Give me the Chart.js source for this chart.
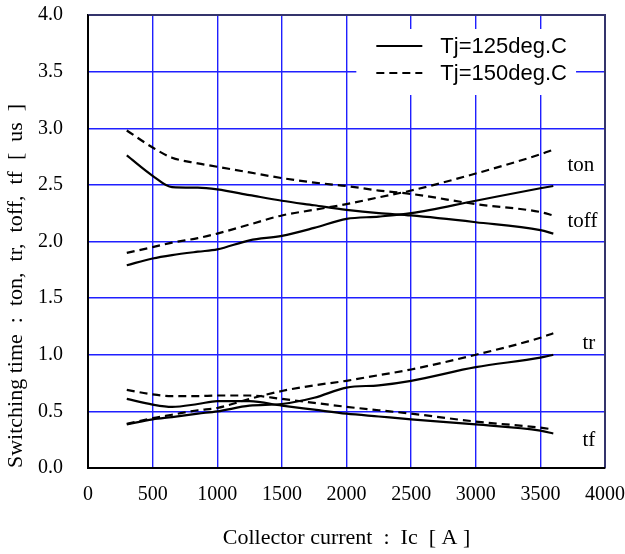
<!DOCTYPE html>
<html><head><meta charset="utf-8">
<script src="https://cdn.jsdelivr.net/npm/chart.js@4.4.0/dist/chart.umd.min.js"></script>
<style>html,body{margin:0;padding:0;background:#fff}</style>
</head><body>
<canvas id="c" width="625" height="554" style="width:625px;height:554px;display:block"></canvas>
<script>
// Collector current [A]
const current = [300, 500, 650, 850, 1000, 1250, 1500, 1750, 2000, 2250, 2500, 3000, 3500, 3600];
// Switching times [us]
const ton125  = [1.79, 1.85, 1.88, 1.91, 1.93, 2.01, 2.05, 2.12, 2.20, 2.22, 2.25, 2.36, 2.47, 2.49];
const ton150  = [1.90, 1.95, 1.99, 2.03, 2.07, 2.15, 2.23, 2.28, 2.33, 2.39, 2.45, 2.60, 2.77, 2.81];
const toff125 = [2.76, 2.58, 2.48, 2.475, 2.46, 2.41, 2.36, 2.32, 2.28, 2.25, 2.23, 2.17, 2.10, 2.07];
const toff150 = [2.98, 2.83, 2.74, 2.69, 2.66, 2.61, 2.56, 2.52, 2.49, 2.45, 2.42, 2.33, 2.26, 2.23];
const tr125   = [0.385, 0.43, 0.45, 0.48, 0.50, 0.55, 0.565, 0.62, 0.71, 0.73, 0.77, 0.89, 0.975, 1.00];
const tr150   = [0.39, 0.44, 0.47, 0.51, 0.53, 0.61, 0.68, 0.73, 0.77, 0.82, 0.87, 1.00, 1.15, 1.19];
const tf125   = [0.61, 0.56, 0.54, 0.565, 0.59, 0.59, 0.55, 0.515, 0.48, 0.455, 0.43, 0.385, 0.33, 0.305];
const tf150   = [0.69, 0.65, 0.635, 0.635, 0.64, 0.64, 0.61, 0.575, 0.54, 0.51, 0.48, 0.41, 0.356, 0.34];

const legendLabels = ['Tj=125deg.C', 'Tj=150deg.C'];
const curveNames = ['ton', 'toff', 'tr', 'tf'];
const curveNameX = [3710, 3710, 3826, 3826];
const curveNameY = [2.62, 2.13, 1.05, 0.19];
const xTitle = 'Collector current  :  Ic  [ A ]';
const yTitle = 'Switching time  :  ton,  tr,  toff,  tf  [  us  ]';

function pts(arr){ return current.map((x,i)=>({x:x, y:arr[i]})); }
function ds(label, arr, dashed){
  return {label:label, data:pts(arr), borderColor:'#000', backgroundColor:'#000',
    borderWidth:2.2, borderDash: dashed ? [8,5] : [], pointRadius:0, pointHoverRadius:0,
    cubicInterpolationMode:'monotone', fill:false};
}

const overlay = {
  id:'overlay',
  beforeDatasetsDraw(chart){
    const {ctx, chartArea:a} = chart;
    const w = a.right - a.left;
    const bx = a.left + w*0.519, by = a.top + 14, bw = w*0.425, bh = 66;
    ctx.save();
    ctx.fillStyle = '#fff';
    ctx.fillRect(bx, by, bw, bh);
    ctx.strokeStyle = '#000';
    ctx.lineWidth = 2;
    const rows = [by+17, by+44];
    rows.forEach((yy, i)=>{
      ctx.setLineDash(i===0 ? [] : [8,5]);
      ctx.beginPath(); ctx.moveTo(bx+20, yy); ctx.lineTo(bx+66, yy); ctx.stroke();
    });
    ctx.setLineDash([]);
    ctx.fillStyle = '#000';
    ctx.font = '22px "Liberation Sans", Arial, sans-serif';
    ctx.textBaseline = 'middle';
    ctx.textAlign = 'left';
    rows.forEach((yy,i)=>ctx.fillText(legendLabels[i], bx+84, yy+1));
    ctx.restore();
  },
  afterDatasetsDraw(chart){
    const {ctx, scales} = chart;
    ctx.save();
    ctx.fillStyle = '#000';
    ctx.font = '21px "Liberation Serif", "Times New Roman", serif';
    ctx.textBaseline = 'alphabetic';
    ctx.textAlign = 'left';
    curveNames.forEach((n,i)=>{
      ctx.fillText(n, scales.x.getPixelForValue(curveNameX[i]), scales.y.getPixelForValue(curveNameY[i]));
    });
    ctx.restore();
  },
  afterDraw(chart){
    const {ctx, chartArea:a} = chart;
    ctx.save();
    ctx.strokeStyle = '#34346c';
    ctx.lineWidth = 2;
    ctx.beginPath();
    ctx.moveTo(a.left, a.top); ctx.lineTo(a.right, a.top); ctx.lineTo(a.right, a.bottom);
    ctx.stroke();
    ctx.strokeStyle = '#000';
    ctx.beginPath();
    ctx.moveTo(a.left, a.top); ctx.lineTo(a.left, a.bottom); ctx.lineTo(a.right, a.bottom);
    ctx.stroke();
    ctx.restore();
  }
};

const serif = '"Liberation Serif", "Times New Roman", serif';
new Chart(document.getElementById('c'), {
  type:'line',
  data:{datasets:[
    ds('ton ' + legendLabels[0], ton125, false),
    ds('ton ' + legendLabels[1], ton150, true),
    ds('toff ' + legendLabels[0], toff125, false),
    ds('toff ' + legendLabels[1], toff150, true),
    ds('tr ' + legendLabels[0], tr125, false),
    ds('tr ' + legendLabels[1], tr150, true),
    ds('tf ' + legendLabels[0], tf125, false),
    ds('tf ' + legendLabels[1], tf150, true)
  ]},
  options:{
    responsive:false, animation:false, devicePixelRatio:1,
    layout:{autoPadding:false, padding:{left:0, right:19, top:15, bottom:0}},
    plugins:{legend:{display:false}, tooltip:{enabled:false}},
    scales:{
      x:{type:'linear', min:0, max:4000,
        ticks:{stepSize:500, padding:0, color:'#000', font:{family:serif, size:20}, maxRotation:0, callback:v=>String(v)},
        grid:{color:'#1f1fff', lineWidth:1.4, drawTicks:true, tickLength:15, tickColor:'rgba(0,0,0,0)'},
        border:{color:'#000', width:2},
        title:{display:true, text:xTitle, color:'#000', font:{family:serif, size:22, lineHeight:1.2}, padding:{top:0,bottom:3}},
        afterFit(s){ s.height = 86; }
      },
      y:{type:'linear', min:0, max:4,
        ticks:{stepSize:0.5, padding:0, color:'#000', font:{family:serif, size:20}, callback:v=>v.toFixed(1)},
        grid:{color:'#1f1fff', lineWidth:1.4, drawTicks:true, tickLength:25, tickColor:'rgba(0,0,0,0)'},
        border:{color:'#000', width:2},
        title:{display:true, text:yTitle, align:'start', color:'#000', font:{family:serif, size:22, lineHeight:1.2}, padding:{top:3,bottom:0}},
        afterFit(s){ s.width = 88; }
      }
    }
  },
  plugins:[overlay]
});
</script>
</body></html>
